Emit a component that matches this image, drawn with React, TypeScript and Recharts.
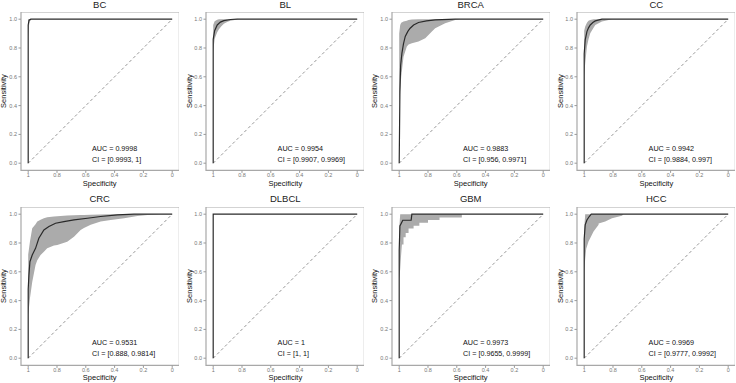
import React from 'react';
import { ComposedChart, Area, Line, XAxis, YAxis, ReferenceArea } from 'recharts';

const titles = ['BC', 'BL', 'BRCA', 'CC', 'CRC', 'DLBCL', 'GBM', 'HCC'];
const aucLabels = ['0.9998', '0.9954', '0.9883', '0.9942', '0.9531', '1', '0.9973', '0.9969'];
const ciLabels = [
  '[0.9993, 1]', '[0.9907, 0.9969]', '[0.956, 0.9971]', '[0.9884, 0.997]',
  '[0.888, 0.9814]', '[1, 1]', '[0.9655, 0.9999]', '[0.9777, 0.9992]',
];

const specTicks = [1, 0.8, 0.6, 0.4, 0.2, 0];
const sensTicks = [0, 0.2, 0.4, 0.6, 0.8, 1];

// ROC curves: [specificity, sensitivity]
const bcCurve = [[1, 0], [1, 0.96], [0.994, 0.993], [0.982, 1], [0, 1]];
const blCurve = [[1, 0], [1, 0.86], [0.99, 0.92], [0.972, 0.96], [0.95, 0.98], [0.926, 0.99], [0.88, 0.998], [0.833, 1], [0, 1]];
const brcaCurve = [[1, 0], [0.995, 0.5], [0.99, 0.68], [0.981, 0.764], [0.97, 0.83], [0.958, 0.88], [0.94, 0.915], [0.924, 0.937], [0.9, 0.96], [0.866, 0.977], [0.81, 0.988], [0.75, 0.995], [0.611, 1], [0, 1]];
const ccCurve = [[1, 0], [1, 0.76], [0.993, 0.856], [0.981, 0.914], [0.97, 0.94], [0.958, 0.96], [0.94, 0.977], [0.923, 0.988], [0.877, 1], [0, 1]];
const crcCurve = [[1, 0], [1, 0.48], [0.995, 0.577], [0.988, 0.67], [0.972, 0.716], [0.949, 0.763], [0.926, 0.833], [0.891, 0.891], [0.856, 0.914], [0.81, 0.937], [0.752, 0.949], [0.682, 0.96], [0.589, 0.972], [0.497, 0.984], [0.381, 0.995], [0.265, 1], [0, 1]];
const dlbclCurve = [[1, 0], [1, 1], [0, 1]];
const gbmCurve = [[1, 0], [1, 0.75], [0.995, 0.919], [0.975, 0.958], [0.917, 0.958], [0.912, 1], [0, 1]];
const hccCurve = [[1, 0], [1, 0.83], [0.993, 0.926], [0.981, 0.96], [0.965, 0.984], [0.951, 1], [0, 1]];

// CI bands: [specificity, lower, upper]
const bcBand = [[1, 0.88, 1], [0.995, 0.95, 1], [0.99, 0.985, 1], [0.975, 1, 1]];
const blBand = [[1, 0.78, 0.96], [0.99, 0.86, 0.985], [0.984, 0.88, 0.99], [0.972, 0.91, 0.996], [0.96, 0.93, 1], [0.945, 0.95, 1], [0.926, 0.968, 1], [0.9, 0.982, 1], [0.88, 0.99, 1], [0.821, 1, 1]];
const brcaBand = [[1, 0.4, 0.9], [0.993, 0.5, 0.96], [0.986, 0.6, 0.975], [0.97, 0.74, 0.984], [0.947, 0.81, 0.99], [0.935, 0.825, 0.995], [0.912, 0.833, 0.998], [0.866, 0.845, 1], [0.819, 0.868, 1], [0.773, 0.914, 1], [0.75, 0.937, 1], [0.681, 0.972, 1], [0.611, 0.995, 1], [0.576, 1, 1]];
const ccBand = [[1, 0.6, 0.92], [0.993, 0.694, 0.95], [0.981, 0.81, 0.975], [0.97, 0.86, 0.99], [0.958, 0.903, 0.995], [0.935, 0.94, 1], [0.923, 0.96, 1], [0.877, 0.984, 1], [0.807, 1, 1]];
const crcBand = [[1, 0.3, 0.72], [0.988, 0.414, 0.809], [0.972, 0.53, 0.902], [0.949, 0.647, 0.93], [0.937, 0.68, 0.949], [0.914, 0.716, 0.962], [0.891, 0.74, 0.972], [0.868, 0.763, 0.978], [0.821, 0.783, 0.984], [0.798, 0.786, 0.986], [0.729, 0.809, 0.991], [0.682, 0.844, 0.993], [0.636, 0.891, 0.995], [0.613, 0.905, 0.995], [0.566, 0.926, 0.997], [0.497, 0.949, 0.998], [0.427, 0.96, 1], [0.334, 0.972, 1], [0.241, 0.988, 1], [0.172, 0.995, 1], [0.079, 1, 1]];
const dlbclBand = [[1, 1, 1], [0, 1, 1]];
const gbmBand = [[1, 0.55, 0.9], [0.993, 0.62, 1], [0.988, 0.7, 1], [0.981, 0.79, 1], [0.97, 0.79, 1], [0.97, 0.84, 1], [0.955, 0.84, 1], [0.955, 0.87, 1], [0.935, 0.87, 1], [0.935, 0.9, 1], [0.9, 0.9, 1], [0.9, 0.92, 1], [0.86, 0.92, 1], [0.86, 0.94, 1], [0.8, 0.94, 1], [0.8, 0.96, 1], [0.72, 0.96, 1], [0.72, 0.977, 1], [0.565, 0.977, 1], [0.565, 1, 1]];
const hccBand = [[1, 0.6, 0.9], [0.993, 0.69, 1], [0.986, 0.76, 1], [0.97, 0.81, 1], [0.955, 0.84, 1], [0.935, 0.879, 1], [0.9, 0.926, 1], [0.9, 0.935, 1], [0.854, 0.949, 1], [0.807, 0.972, 1], [0.738, 0.99, 1], [0.726, 1, 1]];

const curves = [bcCurve, blCurve, brcaCurve, ccCurve, crcCurve, dlbclCurve, gbmCurve, hccCurve];
const bands = [bcBand, blBand, brcaBand, ccBand, crcBand, dlbclBand, gbmBand, hccBand];

const FONT = '"Liberation Sans", Arial, Helvetica, sans-serif';
const P = 158.4; // plot size
const YW = 22;
const XH = 14;
const COL_X = [20.5, 206.1, 391.5, 577.1];
const ROW_Y = [12.1, 206.5];

const Panel = ({ i }: { i: number }) => {
  const left = COL_X[i % 4];
  const top = ROW_Y[Math.floor(i / 4)];
  const curve = curves[i].map(([spec, sens]) => ({ spec, sens }));
  const band = bands[i].map(([spec, lo, hi]) => ({ spec, range: [lo, hi] }));
  const diag = [{ spec: 1, sens: 0 }, { spec: 0, sens: 1 }];
  const x1 = left + 7.2;

  return (
    <>
      <div style={{ position: 'absolute', left, top: top - 12.1, width: P, textAlign: 'center', fontSize: 9.5, lineHeight: '10px', color: '#222' }}>
        {titles[i]}
      </div>
      <div style={{ position: 'absolute', left: left - YW, top }}>
        <ComposedChart width={YW + P} height={P + XH} margin={{ top: 0, right: 0, bottom: 0, left: 0 }}>
          <XAxis
            dataKey="spec" type="number" domain={[-0.05, 1.05]} reversed allowDataOverflow
            ticks={specTicks} tickFormatter={(v: number) => String(v)} height={XH}
            axisLine={false} tickSize={2.5} tickMargin={0.5}
            tickLine={{ stroke: '#999' }} tick={{ fontSize: 5.5, fill: '#777', fontFamily: FONT }}
          />
          <YAxis
            type="number" domain={[-0.05, 1.05]} allowDataOverflow
            ticks={sensTicks} tickFormatter={(v: number) => v.toFixed(1)} width={YW}
            axisLine={false} tickSize={2.5} tickMargin={1.5}
            tickLine={{ stroke: '#999' }} tick={{ fontSize: 5.5, fill: '#777', fontFamily: FONT }}
          />
          <Area data={band} dataKey="range" type="linear" stroke="none" fill="#ababab" fillOpacity={1} isAnimationActive={false} />
          <Line data={diag} dataKey="sens" type="linear" stroke="#8a8a8a" strokeWidth={0.9} strokeDasharray="3 2.5" dot={false} isAnimationActive={false} />
          <Line data={curve} dataKey="sens" type="linear" stroke="#2a2a2a" strokeWidth={1.2} dot={false} isAnimationActive={false} />
          <ReferenceArea x1={-0.05} x2={1.05} y1={-0.05} y2={1.05} fill="none" stroke="#a8a8a8" strokeWidth={1.2} ifOverflow="visible" />
        </ComposedChart>
      </div>
      <div style={{ position: 'absolute', left: left - 16.5 - 36, top: top + P / 2 - 5, width: 72, textAlign: 'center', fontSize: 7.5, lineHeight: '10px', transform: 'rotate(-90deg)', color: '#111' }}>
        Sensitivity
      </div>
      <div style={{ position: 'absolute', left, top: top + P + 8, width: P, textAlign: 'center', fontSize: 7.5, lineHeight: '10px', color: '#111' }}>
        Specificity
      </div>
      <div style={{ position: 'absolute', left: x1 + 64.3, top: top + 136.5 - 5, fontSize: 7.2, lineHeight: '10px', whiteSpace: 'nowrap', color: '#111' }}>
        AUC = {aucLabels[i]}
      </div>
      <div style={{ position: 'absolute', left: x1 + 64.3, top: top + 147.9 - 5, fontSize: 7.2, lineHeight: '10px', whiteSpace: 'nowrap', color: '#111' }}>
        CI = {ciLabels[i]}
      </div>
    </>
  );
};

export default function App() {
  return (
    <div style={{ position: 'absolute', left: 0, top: 0, width: 736, height: 383, background: '#fff', fontFamily: FONT, overflow: 'hidden' }}>
      {titles.map((t, i) => <Panel key={t} i={i} />)}
    </div>
  );
}
